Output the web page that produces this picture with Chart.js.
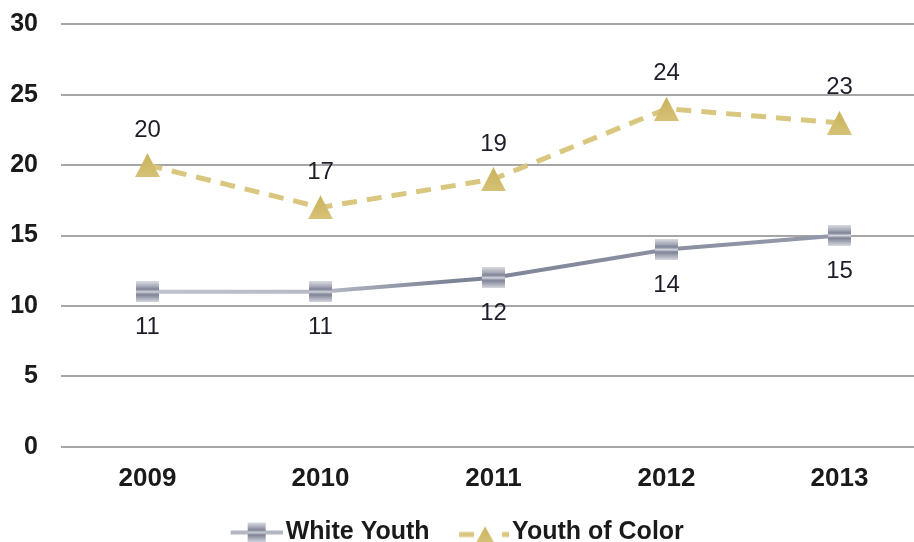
<!DOCTYPE html>
<html>
<head>
<meta charset="utf-8">
<script src="https://cdn.jsdelivr.net/npm/chart.js@4"></script>
<style>
  html, body { margin: 0; padding: 0; background: #fff; overflow: hidden; }
  #wrap { width: 914px; height: 542px; overflow: hidden; }
</style>
</head>
<body>
<div id="wrap"><canvas id="chart" width="926" height="542"></canvas></div>
<script>
const years = ["2009", "2010", "2011", "2012", "2013"];
const whiteYouth = [11, 11, 12, 14, 15];
const youthOfColor = [20, 17, 19, 24, 23];
const yMin = 0;
const yMax = 30;
const yStep = 5;

const FONT = "'Liberation Sans', Arial, sans-serif";

// square marker with horizontal bands (grey)
function squareMarker(w, h) {
  const c = document.createElement("canvas");
  c.width = w; c.height = h;
  const g = c.getContext("2d");
  const grad = g.createLinearGradient(0, 0, 0, h);
  grad.addColorStop(0, "#d9dbe2");
  grad.addColorStop(0.25, "#a3a7b5");
  grad.addColorStop(0.38, "#7c8194");
  grad.addColorStop(0.5, "#d3d6de");
  grad.addColorStop(0.62, "#7c8194");
  grad.addColorStop(0.78, "#a3a7b5");
  grad.addColorStop(1, "#d9dbe2");
  g.fillStyle = grad;
  g.fillRect(0, 0, w, h);
  return c;
}

function triangleMarker(w, h) {
  const c = document.createElement("canvas");
  c.width = w; c.height = h;
  const g = c.getContext("2d");
  const grad = g.createLinearGradient(0, 0, 0, h);
  grad.addColorStop(0, "#c9b25a");
  grad.addColorStop(1, "#d6c278");
  g.fillStyle = grad;
  g.beginPath();
  g.moveTo(w / 2, 0);
  g.lineTo(w, h);
  g.lineTo(0, h);
  g.closePath();
  g.fill();
  return c;
}

// legend symbols: drawn in the right part of a wider canvas so the text sits close
const LEG_W = 60;
const LEG_CW = LEG_W + 19;

function legendWhite() {
  const c = document.createElement("canvas");
  c.width = LEG_CW; c.height = 24;
  const g = c.getContext("2d");
  const x0 = LEG_CW - 52;
  g.strokeStyle = "#b3b7c3";
  g.lineWidth = 4;
  g.beginPath(); g.moveTo(x0, 12); g.lineTo(LEG_CW, 12); g.stroke();
  g.drawImage(squareMarker(18, 20), x0 + 17, 2);
  return c;
}

function legendColor() {
  const c = document.createElement("canvas");
  c.width = LEG_CW; c.height = 24;
  const g = c.getContext("2d");
  const x0 = LEG_CW - 50;
  g.strokeStyle = "#d9c77f";
  g.lineWidth = 5;
  g.beginPath(); g.moveTo(x0, 14); g.lineTo(x0 + 15, 14); g.stroke();
  g.beginPath(); g.moveTo(x0 + 43, 14); g.lineTo(x0 + 50, 14); g.stroke();
  g.drawImage(triangleMarker(18, 16), x0 + 17, 6);
  return c;
}

const sqMark = squareMarker(23, 21);
const triMark = triangleMarker(25, 24);

const valueLabels = {
  id: "valueLabels",
  afterDatasetsDraw(chart) {
    const ctx = chart.ctx;
    ctx.save();
    ctx.font = "24px " + FONT;
    ctx.fillStyle = "#1e1e2a";
    ctx.textAlign = "center";
    ctx.textBaseline = "middle";
    chart.data.datasets.forEach((ds, i) => {
      const meta = chart.getDatasetMeta(i);
      meta.data.forEach((pt, j) => {
        const off = ds.labelPos === "above" ? -35 : 36;
        ctx.fillText(String(ds.data[j]), pt.x, pt.y + off);
      });
    });
    ctx.restore();
  }
};

new Chart(document.getElementById("chart"), {
  type: "line",
  data: {
    labels: years,
    datasets: [
      {
        label: "White Youth",
        data: whiteYouth,
        labelPos: "below",
        borderColor: (c) => {
          const a = c.chart.chartArea;
          if (!a) return "#a0a4b2";
          const g = c.chart.ctx.createLinearGradient(a.left, 0, a.right, 0);
          g.addColorStop(0, "#c4c7d1");
          g.addColorStop(0.3, "#b6bac6");
          g.addColorStop(0.45, "#7d8396");
          g.addColorStop(1, "#9a9fb0");
          return g;
        },
        borderWidth: 4,
        pointStyle: sqMark,
        legendStyle: legendWhite(),
        tension: 0
      },
      {
        label: "Youth of Color",
        data: youthOfColor,
        labelPos: "above",
        borderColor: "#d9c77f",
        borderWidth: 5,
        borderDash: [15, 10],
        pointStyle: triMark,
        legendStyle: legendColor(),
        tension: 0
      }
    ]
  },
  options: {
    responsive: false,
    animation: false,
    layout: { autoPadding: false, padding: { top: 13, left: -29, right: 0, bottom: -13 } },
    scales: {
      x: {
        offset: true,
        grid: { display: false, drawTicks: false },
        border: { display: false },
        ticks: {
          color: "#1a1a1a",
          padding: 16,
          font: { family: FONT, size: 26, weight: "bold" }
        }
      },
      y: {
        min: yMin,
        max: yMax,
        afterFit(scale) { scale.width = 90; },
        grid: { color: "#a6a6a6", lineWidth: 2, drawTicks: false },
        border: { display: false },
        ticks: {
          stepSize: yStep,
          color: "#1a1a1a",
          padding: 23,
          font: { family: FONT, size: 25, weight: "bold", lineHeight: 0.1 }
        }
      }
    },
    plugins: {
      tooltip: { enabled: false },
      legend: {
        position: "bottom",
        labels: {
          usePointStyle: true,
          pointStyleWidth: LEG_W,
          padding: 10,
          color: "#1a1a1a",
          font: { family: FONT, size: 25, weight: "bold" },
          generateLabels(chart) {
            return chart.data.datasets.map((ds, i) => ({
              text: ds.label,
              pointStyle: ds.legendStyle,
              fillStyle: "transparent",
              strokeStyle: "transparent",
              lineWidth: 0,
              fontColor: "#1a1a1a",
              datasetIndex: i
            }));
          }
        }
      }
    }
  },
  plugins: [valueLabels]
});
</script>
</body>
</html>
